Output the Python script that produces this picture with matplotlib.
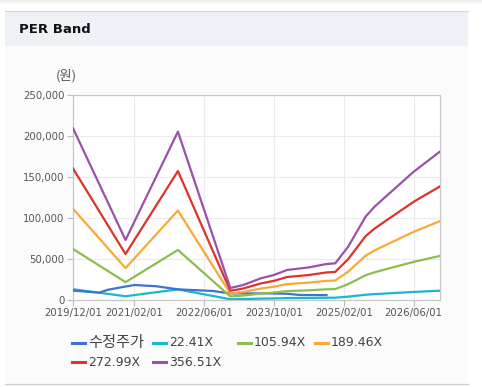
import matplotlib
matplotlib.use("Agg")
import matplotlib.pyplot as plt
from matplotlib.patches import Rectangle
from matplotlib.lines import Line2D
import pandas as pd

plt.rcParams['font.family'] = ['Noto Sans CJK KR', 'DejaVu Sans']

# ---- data ----
band_dates = ['2019-12-01', '2020-12-01', '2021-12-01', '2022-12-01', '2023-03-01', '2023-07-01',
              '2023-10-01', '2024-01-01', '2024-06-01', '2024-10-01', '2024-12-01', '2025-03-01',
              '2025-07-01', '2025-09-01', '2025-12-01', '2026-06-01', '2026-12-01']
per_22 = [13168, 4601, 12906, 919, 1150, 1658, 1918, 2302, 2501, 2759, 2810, 4085, 6394, 7153, 8052, 9838, 11378]
per_106 = [62251, 21750, 61011, 4344, 5435, 7840, 9069, 10880, 11823, 13041, 13285, 19313, 30225, 33816, 38064, 46508, 53786]
per_189 = [111327, 38896, 109110, 7768, 9719, 14020, 16218, 19458, 21144, 23323, 23758, 34539, 54053, 60476, 68073, 83173, 96189]
per_273 = [160408, 56045, 157215, 11193, 14004, 20201, 23368, 28036, 30466, 33605, 34233, 49766, 77884, 87139, 98085, 119843, 138598]
per_357 = [209485, 73192, 205313, 14617, 18289, 26382, 30517, 36613, 39787, 43886, 44706, 64994, 101712, 113798, 128094, 156508, 181000]

price_dates = ['2019-12-01', '2020-03-01', '2020-06-01', '2020-08-01', '2020-11-01', '2021-02-01',
               '2021-07-01', '2021-12-01', '2022-04-01', '2022-08-01', '2022-12-01', '2023-04-01',
               '2023-08-01', '2024-01-01', '2024-04-01', '2024-10-01']
price = [11400, 10200, 8950, 12500, 15500, 18300, 16800, 13000, 12000, 11000, 8000, 8000,
         8100, 7600, 6100, 6000]

series_labels = ['수정주가', '22.41X', '105.94X', '189.46X', '272.99X', '356.51X']
series_colors = ['#3b73d1', '#1bb6cf', '#8dbd4c', '#f9a935', '#dd3329', '#9c51a9']

x_ticks = ['2019-12-01', '2021-02-01', '2022-06-01', '2023-10-01', '2025-02-01', '2026-06-01']
x_tick_labels = ['2019/12/01', '2021/02/01', '2022/06/01', '2023/10/01', '2025/02/01', '2026/06/01']
y_ticks = [0, 50000, 100000, 150000, 200000, 250000]

# ---- figure ----
W, H = 482, 387
fig = plt.figure(figsize=(W / 100, H / 100), dpi=100)
fig.patch.set_facecolor('white')

def fx(px):
    return px / W

def fy(py):
    return 1 - py / H

def bg_rect(x0, y_top, w, h, color):
    r = Rectangle((fx(x0), fy(y_top + h)), w / W, h / H, transform=fig.transFigure,
                  facecolor=color, edgecolor='none', zorder=-5)
    fig.patches.append(r)

# top shadow
for i, c in enumerate(['#ececec', '#f2f2f2', '#f6f6f6', '#fafafa']):
    bg_rect(0, i, W, 1, c)
# panel body + header
bg_rect(5, 11, 463, 372, '#fbfbfb')
bg_rect(5, 11, 463, 35, '#eef2f7')
fig.add_artist(Line2D([fx(5), fx(468)], [fy(11), fy(11)], color='#d3d6db', lw=0.8, zorder=-4))
fig.add_artist(Line2D([fx(5), fx(468)], [fy(383.5), fy(383.5)], color='#cfcfcf', lw=1.0, zorder=-4))

fig.text(fx(19), fy(29.5), 'PER Band', fontsize=9.5, fontweight='bold', color='#111111',
         va='center', ha='left', family=['DejaVu Sans'])

# axes
ax = fig.add_axes([fx(73), fy(300), fx(440 - 73), (300 - 95) / H])
ax.set_facecolor('white')

bd = pd.to_datetime(band_dates)
pdt = pd.to_datetime(price_dates)
lw = 1.6
ax.plot(bd, per_22, color=series_colors[1], lw=lw, zorder=3)
ax.plot(pdt, price, color=series_colors[0], lw=lw, zorder=3)
ax.plot(bd, per_106, color=series_colors[2], lw=lw, zorder=3)
ax.plot(bd, per_189, color=series_colors[3], lw=lw, zorder=3)
ax.plot(bd, per_273, color=series_colors[4], lw=lw, zorder=3)
ax.plot(bd, per_357, color=series_colors[5], lw=lw, zorder=3)

ax.set_xlim(pd.Timestamp('2019-12-01'), pd.Timestamp('2026-12-01'))
ax.set_ylim(0, 250000)
ax.set_xticks(pd.to_datetime(x_ticks))
ax.set_xticklabels(x_tick_labels)
ax.set_yticks(y_ticks)
ax.set_yticklabels([f'{v:,}' for v in y_ticks])
ax.tick_params(axis='both', labelsize=7.3, colors='#bbbbbb', labelcolor='#555555', length=4, width=0.8, pad=2)
ax.grid(True, color='#ebebeb', lw=0.8, zorder=0)
for s in ax.spines.values():
    s.set_color('#c8c8c8')
    s.set_linewidth(0.9)
for lbl in ax.get_xticklabels() + ax.get_yticklabels():
    lbl.set_family(['DejaVu Sans'])

fig.text(fx(66), fy(76), '(원)', fontsize=9.5, color='#555555', ha='center', va='center')

# legend (manual)
leg_entries = [(0, 72, 343), (1, 153, 343), (2, 238, 343), (3, 315, 343), (4, 72, 362), (5, 153, 362)]
for idx, px, py in leg_entries:
    fig.add_artist(Line2D([fx(px), fx(px + 13)], [fy(py), fy(py)], color=series_colors[idx], lw=2.2))
    if idx == 0:
        fig.text(fx(px + 16), fy(py - 1), series_labels[idx], fontsize=11, color='#444444',
                 ha='left', va='center', family=['Noto Sans CJK KR', 'DejaVu Sans'])
    else:
        fig.text(fx(px + 16), fy(py), series_labels[idx], fontsize=9, color='#444444',
                 ha='left', va='center', family=['DejaVu Sans'])

fig.savefig('out.png', dpi=100, facecolor=fig.get_facecolor())
